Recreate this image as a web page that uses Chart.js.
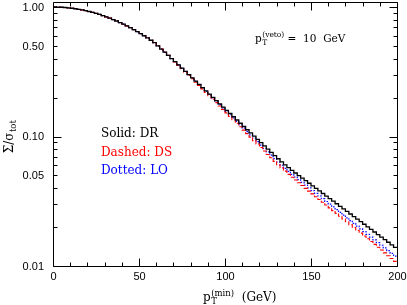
<!DOCTYPE html>
<html><head><meta charset="utf-8">
<script src="https://cdn.jsdelivr.net/npm/chart.js@4.4.1/dist/chart.umd.min.js"></script>
<style>html,body{margin:0;padding:0;background:#fff}#wrap{width:407px;height:305px;position:relative}</style>
</head><body><div id="wrap"><canvas id="c" width="407" height="305"></canvas></div>
<script>
// ---- DATA ----
// lower edges of the 2 GeV bins of pT(min)
const binEdges = [0,2,4,6,8,10,12,14,16,18,20,22,24,26,28,30,32,34,36,38,40,42,44,46,48,50,52,54,56,58,
60,62,64,66,68,70,72,74,76,78,80,82,84,86,88,90,92,94,96,98,100,102,104,106,108,110,112,114,116,118,
120,122,124,126,128,130,132,134,136,138,140,142,144,146,148,150,152,154,156,158,160,162,164,166,168,170,
172,174,176,178,180,182,184,186,188,190,192,194,196,198];
const xUpperEdge = 200;

// Sigma/sigma_tot, solid black (DR)
const valuesDR = [0.9998,0.9984,0.9955,0.9911,0.9854,0.9782,0.9697,0.9599,0.9488,0.9364,
0.9229,0.9083,0.8925,0.8758,0.8581,0.8396,0.8203,0.8003,0.7796,0.7583,
0.7366,0.7144,0.6918,0.6691,0.6461,0.6231,0.5999,0.5768,0.5538,0.5309,
0.5012,0.4732,0.4477,0.4236,0.3999,0.3780,0.3569,0.3369,0.3180,0.3003,
0.2835,0.2676,0.2526,0.2385,0.2251,0.2126,0.2007,0.1894,0.1788,0.1688,
0.1594,0.1505,0.1421,0.1341,0.1266,0.1195,0.1128,0.1065,0.1006,0.0949,
0.0896,0.0846,0.0799,0.0754,0.0712,0.0673,0.0637,0.0604,0.0574,0.0547,
0.05226,0.04993,0.04771,0.04558,0.04355,0.04161,0.03975,0.03798,0.03629,0.03467,
0.03313,0.03165,0.03024,0.02889,0.02761,0.02638,0.02520,0.02408,0.02300,0.02198,
0.02100,0.02006,0.01917,0.01831,0.01750,0.01672,0.01597,0.01526,0.01458,0.01393];

// dashed red (DS)
const valuesDS = [0.9998,0.9984,0.9955,0.9911,0.9854,0.9782,0.9697,0.9599,0.9488,0.9364,
0.9229,0.9083,0.8925,0.8758,0.8581,0.8396,0.8203,0.8003,0.7796,0.7583,
0.7366,0.7144,0.6918,0.6691,0.6461,0.6231,0.5999,0.5768,0.5538,0.5309,
0.5012,0.4732,0.4477,0.4236,0.3999,0.3763,0.3544,0.3338,0.3144,0.2962,
0.2790,0.2627,0.2474,0.2331,0.2190,0.2063,0.1943,0.1826,0.1719,0.1616,
0.1522,0.1431,0.1348,0.1266,0.1190,0.1120,0.1053,0.0989,0.0930,0.0876,
0.0823,0.0773,0.0727,0.0685,0.0643,0.0605,0.0572,0.0540,0.0510,0.0485,
0.04615,0.04389,0.04184,0.03979,0.03784,0.03607,0.03430,0.03263,0.03110,0.02958,
0.02813,0.02675,0.02550,0.02425,0.02307,0.02194,0.02086,0.01985,0.01887,0.01795,
0.01707,0.01623,0.01544,0.01468,0.01397,0.01328,0.01263,0.01201,0.01142,0.01086];

// dotted blue (LO)
const valuesLO = [0.9998,0.9984,0.9955,0.9911,0.9854,0.9782,0.9697,0.9599,0.9488,0.9364,
0.9229,0.9083,0.8925,0.8758,0.8581,0.8396,0.8203,0.8003,0.7796,0.7583,
0.7366,0.7144,0.6918,0.6691,0.6461,0.6231,0.5999,0.5768,0.5538,0.5309,
0.5012,0.4732,0.4477,0.4236,0.3999,0.3780,0.3569,0.3369,0.3180,0.3003,
0.2828,0.2670,0.2514,0.2374,0.2236,0.2111,0.1989,0.1872,0.1764,0.1661,
0.1565,0.1474,0.1389,0.1307,0.1232,0.1160,0.1092,0.1029,0.0970,0.0913,
0.0858,0.0808,0.0761,0.0717,0.0674,0.0635,0.0600,0.0568,0.0538,0.0510,
0.04866,0.04638,0.04422,0.04215,0.04009,0.03821,0.03642,0.03472,0.03310,0.03147,
0.03001,0.02860,0.02726,0.02599,0.02472,0.02356,0.02241,0.02136,0.02031,0.01937,
0.01842,0.01755,0.01670,0.01591,0.01517,0.01446,0.01378,0.01314,0.01252,0.01194];

const seriesLabels = ['Solid: DR','Dashed: DS','Dotted: LO'];
const xTickLabels = ['0','50','100','150','200'];
const xTickValues = [0,50,100,150,200];
const xMinorValues = [10,20,30,40,60,70,80,90,110,120,130,140,160,170,180,190];
const yTickLabels = ['1.00','0.50','0.10','0.05','0.01'];
const yTickValues = [1,0.5,0.1,0.05,0.01];
const yDecadeValues = [0.01,0.1,1];
const yMinorValues = [0.02,0.03,0.04,0.05,0.06,0.07,0.08,0.09,0.2,0.3,0.4,0.5,0.6,0.7,0.8,0.9];
const xRange = [0,200];
const yRange = [0.01,1.093];
const annotationParts = {base:'p', sub:'T', sup:'(veto)', rest:' =  10  GeV'};
const xTitleParts = {base:'p', sub:'T', sup:'(min)', rest:'  (GeV)'};
const yTitleParts = {base:'\u03A3/\u03C3', sub:'tot'};

// ---- CHART ----
function toPoints(vals){
  const pts = binEdges.map((e,i)=>({x:e, y:vals[i]}));
  pts.push({x:xUpperEdge, y:vals[vals.length-1]});
  return pts;
}
const colors = ['#000000','#ff0000','#0000ff'];
const dashes = [[],[4,2],[1.5,1.5]];
const widths = [1.3,1.1,1.2];
const allVals = [valuesDR, valuesDS, valuesLO];

const SERIF = '"DejaVu Serif", serif';
const SANS = '"Liberation Sans", Arial, sans-serif';

function drawStack(ctx, x, y, p, size, subSize){
  ctx.font = size + 'px ' + SERIF;
  ctx.fillText(p.base, x, y);
  let w = ctx.measureText(p.base).width;
  let cx = x + w;
  ctx.font = subSize + 'px ' + SERIF;
  let ws = 0, wp = 0;
  if (p.sub){ ctx.fillText(p.sub, cx + 0.5, y + size*0.28); ws = ctx.measureText(p.sub).width + 0.5; }
  if (p.sup){ ctx.fillText(p.sup, cx + 0.5, y - size*0.45); wp = ctx.measureText(p.sup).width + 0.5; }
  cx += Math.max(ws, wp);
  if (p.rest){ ctx.font = size + 'px ' + SERIF; ctx.fillText(p.rest, cx, y); cx += ctx.measureText(p.rest).width; }
  return cx - x;
}

const framePlugin = {
  id:'frame',
  afterDraw(chart){
    const {ctx, chartArea:a, scales:{x, y}} = chart;
    const L = Math.round(a.left)+0.5, R = Math.round(a.right)+0.5, T = Math.round(a.top)+0.5, B = Math.round(a.bottom)+0.5;
    ctx.save();
    ctx.strokeStyle = '#000'; ctx.lineWidth = 1; ctx.setLineDash([]);
    ctx.beginPath(); ctx.rect(L, T, R-L, B-T); ctx.stroke();
    ctx.beginPath();
    const xt = (v, len)=>{ const px = Math.round(x.getPixelForValue(v))+0.5; ctx.moveTo(px,B); ctx.lineTo(px,B-len); ctx.moveTo(px,T); ctx.lineTo(px,T+len); };
    xTickValues.forEach(v=>xt(v,8)); xMinorValues.forEach(v=>xt(v,4));
    const yt = (v, len)=>{ const py = Math.round(y.getPixelForValue(v))+0.5; ctx.moveTo(L,py); ctx.lineTo(L+len,py); ctx.moveTo(R,py); ctx.lineTo(R-len,py); };
    yDecadeValues.forEach(v=>yt(v,8)); yMinorValues.forEach(v=>yt(v,4));
    ctx.stroke();
    // tick labels
    ctx.fillStyle = '#000';
    ctx.font = '11px ' + SANS;
    ctx.textAlign = 'right'; ctx.textBaseline = 'middle';
    yTickValues.forEach((v,i)=>ctx.fillText(yTickLabels[i], 44, y.getPixelForValue(v)+0.5));
    ctx.textAlign = 'center';
    xTickValues.forEach((v,i)=>ctx.fillText(xTickLabels[i], x.getPixelForValue(v)+0.5, 277));
    // x title
    ctx.textAlign = 'left'; ctx.textBaseline = 'alphabetic';
    drawStack(ctx, 203, 301, xTitleParts, 12, 8.5);
    // annotation
    drawStack(ctx, 255, 42, annotationParts, 10.5, 7.5);
    // legend texts
    ctx.font = '12px ' + SERIF;
    const lb = [137, 155.5, 174];
    seriesLabels.forEach((t,i)=>{ ctx.fillStyle = colors[i]; ctx.fillText(t, 101, lb[i]); });
    // y title (rotated)
    ctx.fillStyle = '#000';
    ctx.save();
    ctx.translate(13, 137); ctx.rotate(-Math.PI/2);
    ctx.font = '12px ' + SERIF;
    const wb = ctx.measureText(yTitleParts.base).width;
    ctx.font = '8.5px ' + SERIF;
    const wsub = ctx.measureText(yTitleParts.sub).width;
    const start = -(wb + wsub)/2;
    ctx.font = '12px ' + SERIF; ctx.fillText(yTitleParts.base, start, 0);
    ctx.font = '8.5px ' + SERIF; ctx.fillText(yTitleParts.sub, start + wb + 0.5, 3);
    ctx.restore();
    ctx.restore();
  }
};

new Chart(document.getElementById('c').getContext('2d'), {
  type:'line',
  data:{ datasets: allVals.map((vals,i)=>({
    label: seriesLabels[i],
    data: toPoints(vals),
    borderColor: colors[i],
    borderWidth: widths[i],
    borderDash: dashes[i],
    stepped: true,
    pointRadius: 0,
    fill: false,
    tension: 0
  }))},
  options:{
    responsive:false, animation:false, devicePixelRatio:1,
    layout:{padding:{left:53, right:10, top:2, bottom:39}},
    plugins:{legend:{display:false}, tooltip:{enabled:false}, title:{display:false}},
    scales:{
      x:{type:'linear', min:xRange[0], max:xRange[1], display:false},
      y:{type:'logarithmic', min:yRange[0], max:yRange[1], display:false}
    }
  },
  plugins:[framePlugin]
});
</script></body></html>
